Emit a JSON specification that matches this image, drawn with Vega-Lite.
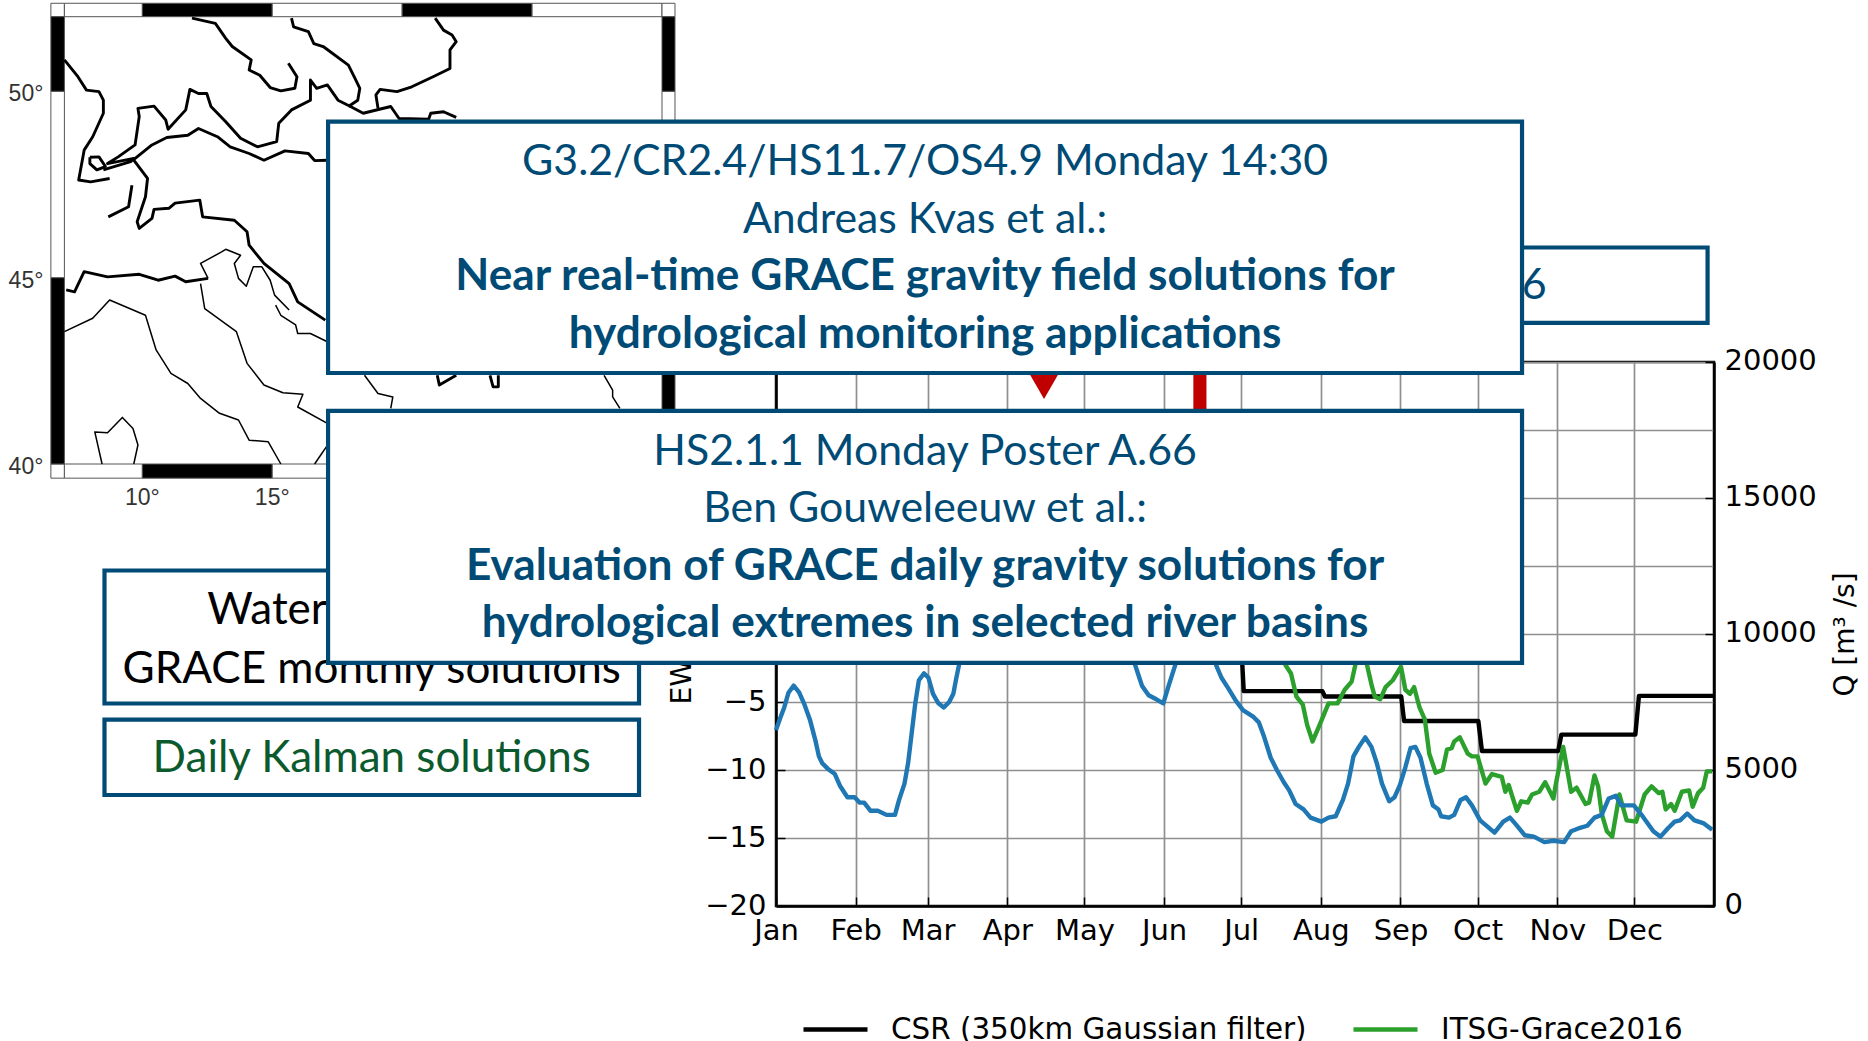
{"$schema":"https://vega.github.io/schema/vega-lite/v6.json","width":938,"height":544,"autosize":{"type":"none"},"padding":{"left":776,"top":362,"right":154,"bottom":135},"background":"white","config":{"view":{"stroke":"#000","strokeWidth":2.5},"text":{"font":"Lato"}},
"datasets":{
"series":[
{"series":"CSR (350km Gaussian filter)","day":165,"ewh":3},{"series":"CSR (350km Gaussian filter)","day":180,"ewh":3},{"series":"CSR (350km Gaussian filter)","day":182,"ewh":-4.2},{"series":"CSR (350km Gaussian filter)","day":212.6,"ewh":-4.2},{"series":"CSR (350km Gaussian filter)","day":213.6,"ewh":-4.6},{"series":"CSR (350km Gaussian filter)","day":243.3,"ewh":-4.6},{"series":"CSR (350km Gaussian filter)","day":244.4,"ewh":-6.4},{"series":"CSR (350km Gaussian filter)","day":273.3,"ewh":-6.4},{"series":"CSR (350km Gaussian filter)","day":274.7,"ewh":-8.6},{"series":"CSR (350km Gaussian filter)","day":304.4,"ewh":-8.6},{"series":"CSR (350km Gaussian filter)","day":305.6,"ewh":-7.4},{"series":"CSR (350km Gaussian filter)","day":334.4,"ewh":-7.4},{"series":"CSR (350km Gaussian filter)","day":335.8,"ewh":-4.55},{"series":"CSR (350km Gaussian filter)","day":365,"ewh":-4.55},
{"series":"ITSG-Grace2016","day":190,"ewh":1},{"series":"ITSG-Grace2016","day":198.3,"ewh":-2.3},{"series":"ITSG-Grace2016","day":200.4,"ewh":-2.9},{"series":"ITSG-Grace2016","day":202.5,"ewh":-4.6},{"series":"ITSG-Grace2016","day":205,"ewh":-5.2},{"series":"ITSG-Grace2016","day":206.7,"ewh":-6.7},{"series":"ITSG-Grace2016","day":208.8,"ewh":-7.9},{"series":"ITSG-Grace2016","day":211.5,"ewh":-6.7},{"series":"ITSG-Grace2016","day":215,"ewh":-5.1},{"series":"ITSG-Grace2016","day":218.5,"ewh":-5.1},{"series":"ITSG-Grace2016","day":221.3,"ewh":-4.1},{"series":"ITSG-Grace2016","day":224,"ewh":-3.5},{"series":"ITSG-Grace2016","day":225.4,"ewh":-2.3},{"series":"ITSG-Grace2016","day":227.5,"ewh":1},{"series":"ITSG-Grace2016","day":230,"ewh":-2.3},{"series":"ITSG-Grace2016","day":231.7,"ewh":-3.7},{"series":"ITSG-Grace2016","day":233,"ewh":-4.6},{"series":"ITSG-Grace2016","day":235.1,"ewh":-4.8},{"series":"ITSG-Grace2016","day":237.2,"ewh":-3.9},{"series":"ITSG-Grace2016","day":240,"ewh":-3.4},{"series":"ITSG-Grace2016","day":243.2,"ewh":-2.4},{"series":"ITSG-Grace2016","day":244.9,"ewh":-4.1},{"series":"ITSG-Grace2016","day":246.7,"ewh":-4.4},{"series":"ITSG-Grace2016","day":248.3,"ewh":-3.9},{"series":"ITSG-Grace2016","day":250.4,"ewh":-5.4},{"series":"ITSG-Grace2016","day":252.5,"ewh":-6.3},{"series":"ITSG-Grace2016","day":254.2,"ewh":-8.8},{"series":"ITSG-Grace2016","day":256.7,"ewh":-10.2},{"series":"ITSG-Grace2016","day":259.4,"ewh":-10},{"series":"ITSG-Grace2016","day":261.1,"ewh":-8.5},{"series":"ITSG-Grace2016","day":262.9,"ewh":-8.4},{"series":"ITSG-Grace2016","day":263.9,"ewh":-7.9},{"series":"ITSG-Grace2016","day":266.1,"ewh":-7.6},{"series":"ITSG-Grace2016","day":269.2,"ewh":-8.8},{"series":"ITSG-Grace2016","day":270.8,"ewh":-9},{"series":"ITSG-Grace2016","day":273,"ewh":-9},{"series":"ITSG-Grace2016","day":276.1,"ewh":-11},{"series":"ITSG-Grace2016","day":278.6,"ewh":-10.3},{"series":"ITSG-Grace2016","day":282.4,"ewh":-10.5},{"series":"ITSG-Grace2016","day":283.8,"ewh":-11.6},{"series":"ITSG-Grace2016","day":285.1,"ewh":-11.1},{"series":"ITSG-Grace2016","day":288.3,"ewh":-13},{"series":"ITSG-Grace2016","day":290,"ewh":-12.3},{"series":"ITSG-Grace2016","day":292.5,"ewh":-12.4},{"series":"ITSG-Grace2016","day":294.2,"ewh":-11.8},{"series":"ITSG-Grace2016","day":297,"ewh":-11.6},{"series":"ITSG-Grace2016","day":299.3,"ewh":-10.9},{"series":"ITSG-Grace2016","day":302.5,"ewh":-12.1},{"series":"ITSG-Grace2016","day":303.6,"ewh":-10.9},{"series":"ITSG-Grace2016","day":306.3,"ewh":-8.3},{"series":"ITSG-Grace2016","day":309.4,"ewh":-11.6},{"series":"ITSG-Grace2016","day":311.5,"ewh":-11.3},{"series":"ITSG-Grace2016","day":315,"ewh":-12.5},{"series":"ITSG-Grace2016","day":316.4,"ewh":-12.4},{"series":"ITSG-Grace2016","day":318.5,"ewh":-10.4},{"series":"ITSG-Grace2016","day":319.9,"ewh":-11.2},{"series":"ITSG-Grace2016","day":321.3,"ewh":-13.2},{"series":"ITSG-Grace2016","day":323.3,"ewh":-14.5},{"series":"ITSG-Grace2016","day":325.4,"ewh":-14.9},{"series":"ITSG-Grace2016","day":328.2,"ewh":-11.8},{"series":"ITSG-Grace2016","day":331,"ewh":-13.7},{"series":"ITSG-Grace2016","day":334.7,"ewh":-13.8},{"series":"ITSG-Grace2016","day":338,"ewh":-11.8},{"series":"ITSG-Grace2016","day":340.7,"ewh":-11.2},{"series":"ITSG-Grace2016","day":343.5,"ewh":-11.7},{"series":"ITSG-Grace2016","day":344.9,"ewh":-11.6},{"series":"ITSG-Grace2016","day":346.2,"ewh":-12.9},{"series":"ITSG-Grace2016","day":348.3,"ewh":-12.5},{"series":"ITSG-Grace2016","day":349.7,"ewh":-13},{"series":"ITSG-Grace2016","day":352.5,"ewh":-11.6},{"series":"ITSG-Grace2016","day":355.3,"ewh":-11.5},{"series":"ITSG-Grace2016","day":356.7,"ewh":-12.7},{"series":"ITSG-Grace2016","day":358.8,"ewh":-11.7},{"series":"ITSG-Grace2016","day":360.8,"ewh":-11.3},{"series":"ITSG-Grace2016","day":362.2,"ewh":-10.1},{"series":"ITSG-Grace2016","day":364.3,"ewh":-10.1},
{"series":"Daily","day":0,"ewh":-7.07},{"series":"Daily","day":1.4,"ewh":-6.3},{"series":"Daily","day":3.2,"ewh":-5.4},{"series":"Daily","day":4.9,"ewh":-4.3},{"series":"Daily","day":6.9,"ewh":-3.8},{"series":"Daily","day":9,"ewh":-4.3},{"series":"Daily","day":11.1,"ewh":-5.2},{"series":"Daily","day":13.2,"ewh":-6.3},{"series":"Daily","day":15.3,"ewh":-7.8},{"series":"Daily","day":16.7,"ewh":-9},{"series":"Daily","day":18,"ewh":-9.5},{"series":"Daily","day":20.1,"ewh":-9.9},{"series":"Daily","day":22.9,"ewh":-10.3},{"series":"Daily","day":25,"ewh":-11.2},{"series":"Daily","day":27.8,"ewh":-12},{"series":"Daily","day":30.6,"ewh":-12},{"series":"Daily","day":32.6,"ewh":-12.4},{"series":"Daily","day":34.3,"ewh":-12.4},{"series":"Daily","day":36.8,"ewh":-13},{"series":"Daily","day":39.6,"ewh":-13},{"series":"Daily","day":43,"ewh":-13.3},{"series":"Daily","day":46.3,"ewh":-13.3},{"series":"Daily","day":47.9,"ewh":-12.2},{"series":"Daily","day":50,"ewh":-11},{"series":"Daily","day":51.4,"ewh":-9.5},{"series":"Daily","day":52.8,"ewh":-7.3},{"series":"Daily","day":54.2,"ewh":-5.1},{"series":"Daily","day":55.6,"ewh":-3.4},{"series":"Daily","day":57.6,"ewh":-2.9},{"series":"Daily","day":59.3,"ewh":-3.2},{"series":"Daily","day":61.1,"ewh":-4.4},{"series":"Daily","day":63.2,"ewh":-5.1},{"series":"Daily","day":65.3,"ewh":-5.4},{"series":"Daily","day":67.4,"ewh":-5},{"series":"Daily","day":69,"ewh":-4.4},{"series":"Daily","day":70.1,"ewh":-3.3},{"series":"Daily","day":71.3,"ewh":-2.2},{"series":"Daily","day":80,"ewh":2},{"series":"Daily","day":100,"ewh":4},{"series":"Daily","day":125,"ewh":3},{"series":"Daily","day":137,"ewh":0},{"series":"Daily","day":139.6,"ewh":-2.2},{"series":"Daily","day":141,"ewh":-3},{"series":"Daily","day":142.4,"ewh":-3.8},{"series":"Daily","day":145,"ewh":-4.5},{"series":"Daily","day":148,"ewh":-4.8},{"series":"Daily","day":150.7,"ewh":-5.1},{"series":"Daily","day":152.8,"ewh":-3.8},{"series":"Daily","day":155.5,"ewh":-2.2},{"series":"Daily","day":160,"ewh":1},{"series":"Daily","day":167,"ewh":1},{"series":"Daily","day":171.3,"ewh":-2.3},{"series":"Daily","day":173.3,"ewh":-3.2},{"series":"Daily","day":176,"ewh":-4},{"series":"Daily","day":178.9,"ewh":-4.9},{"series":"Daily","day":181.7,"ewh":-5.6},{"series":"Daily","day":185.8,"ewh":-6.1},{"series":"Daily","day":187.9,"ewh":-6.5},{"series":"Daily","day":190,"ewh":-7.6},{"series":"Daily","day":192.5,"ewh":-9.1},{"series":"Daily","day":194.9,"ewh":-10},{"series":"Daily","day":197.6,"ewh":-10.9},{"series":"Daily","day":199.7,"ewh":-11.5},{"series":"Daily","day":202.2,"ewh":-12.5},{"series":"Daily","day":205.3,"ewh":-12.9},{"series":"Daily","day":208,"ewh":-13.5},{"series":"Daily","day":212.2,"ewh":-13.8},{"series":"Daily","day":215,"ewh":-13.5},{"series":"Daily","day":217.8,"ewh":-13.4},{"series":"Daily","day":220.6,"ewh":-12.2},{"series":"Daily","day":222.6,"ewh":-11},{"series":"Daily","day":224.7,"ewh":-9},{"series":"Daily","day":226.8,"ewh":-8.3},{"series":"Daily","day":229.3,"ewh":-7.6},{"series":"Daily","day":231.7,"ewh":-8.3},{"series":"Daily","day":233.8,"ewh":-9.5},{"series":"Daily","day":235.8,"ewh":-11},{"series":"Daily","day":238.6,"ewh":-12.3},{"series":"Daily","day":240.7,"ewh":-12},{"series":"Daily","day":242.8,"ewh":-11.1},{"series":"Daily","day":244.9,"ewh":-9.8},{"series":"Daily","day":246.9,"ewh":-8.4},{"series":"Daily","day":248.8,"ewh":-8.3},{"series":"Daily","day":250.8,"ewh":-9.1},{"series":"Daily","day":253.2,"ewh":-11},{"series":"Daily","day":255.6,"ewh":-12.6},{"series":"Daily","day":257.8,"ewh":-12.9},{"series":"Daily","day":258.8,"ewh":-13.4},{"series":"Daily","day":261.9,"ewh":-13.5},{"series":"Daily","day":263.9,"ewh":-13.3},{"series":"Daily","day":266.4,"ewh":-12.2},{"series":"Daily","day":268.5,"ewh":-12},{"series":"Daily","day":270.8,"ewh":-12.6},{"series":"Daily","day":274,"ewh":-13.7},{"series":"Daily","day":279.6,"ewh":-14.6},{"series":"Daily","day":283,"ewh":-13.8},{"series":"Daily","day":285.6,"ewh":-13.5},{"series":"Daily","day":287.9,"ewh":-14},{"series":"Daily","day":291.4,"ewh":-14.8},{"series":"Daily","day":294.9,"ewh":-14.9},{"series":"Daily","day":299,"ewh":-15.3},{"series":"Daily","day":302.5,"ewh":-15.2},{"series":"Daily","day":306.7,"ewh":-15.3},{"series":"Daily","day":309.4,"ewh":-14.5},{"series":"Daily","day":312.2,"ewh":-14.3},{"series":"Daily","day":315.7,"ewh":-14.1},{"series":"Daily","day":318.5,"ewh":-13.5},{"series":"Daily","day":321.3,"ewh":-13.3},{"series":"Daily","day":324,"ewh":-12.1},{"series":"Daily","day":326.8,"ewh":-11.9},{"series":"Daily","day":328.9,"ewh":-12.6},{"series":"Daily","day":333.8,"ewh":-12.6},{"series":"Daily","day":337.2,"ewh":-13.4},{"series":"Daily","day":341.4,"ewh":-14.5},{"series":"Daily","day":344.2,"ewh":-14.9},{"series":"Daily","day":347,"ewh":-14.3},{"series":"Daily","day":349.7,"ewh":-13.8},{"series":"Daily","day":351.8,"ewh":-13.7},{"series":"Daily","day":354.6,"ewh":-13.2},{"series":"Daily","day":357.4,"ewh":-13.7},{"series":"Daily","day":360.8,"ewh":-13.9},{"series":"Daily","day":364.3,"ewh":-14.4}
],
"mapLines":[
{"kind":"thick","path":"A","lon":11.91,"lat":51.96},{"kind":"thick","path":"A","lon":12.81,"lat":51.82},{"kind":"thick","path":"A","lon":13.21,"lat":51.42},{"kind":"thick","path":"A","lon":13.46,"lat":51.2},{"kind":"thick","path":"A","lon":14.19,"lat":50.84},{"kind":"thick","path":"A","lon":14.11,"lat":50.57},{"kind":"thick","path":"A","lon":14.52,"lat":50.43},{"kind":"thick","path":"A","lon":14.92,"lat":50.1},{"kind":"thick","path":"A","lon":15.33,"lat":50.01},{"kind":"thick","path":"A","lon":15.87,"lat":50.08},{"kind":"thick","path":"A","lon":15.95,"lat":50.39},{"kind":"thick","path":"A","lon":15.62,"lat":50.75},
{"kind":"thick","path":"B","lon":15.74,"lat":51.96},{"kind":"thick","path":"B","lon":15.82,"lat":51.73},{"kind":"thick","path":"B","lon":16.39,"lat":51.6},{"kind":"thick","path":"B","lon":16.6,"lat":51.28},{"kind":"thick","path":"B","lon":16.96,"lat":51.2},{"kind":"thick","path":"B","lon":17.93,"lat":50.7},{"kind":"thick","path":"B","lon":18.18,"lat":50.35},{"kind":"thick","path":"B","lon":18.37,"lat":50.08},{"kind":"thick","path":"B","lon":18.29,"lat":49.76},{"kind":"thick","path":"B","lon":17.93,"lat":49.59},
{"kind":"thick","path":"C","lon":21.27,"lat":51.96},{"kind":"thick","path":"C","lon":21.59,"lat":51.64},{"kind":"thick","path":"C","lon":21.92,"lat":51.51},{"kind":"thick","path":"C","lon":22.08,"lat":51.33},{"kind":"thick","path":"C","lon":21.84,"lat":51.11},{"kind":"thick","path":"C","lon":21.84,"lat":50.61},{"kind":"thick","path":"C","lon":21.19,"lat":50.39},{"kind":"thick","path":"C","lon":20.37,"lat":50.12},{"kind":"thick","path":"C","lon":19.8,"lat":49.99},{"kind":"thick","path":"C","lon":19.15,"lat":50.05},{"kind":"thick","path":"C","lon":18.99,"lat":49.9},{"kind":"thick","path":"C","lon":19.07,"lat":49.54},
{"kind":"thick","path":"D","lon":7,"lat":50.84},{"kind":"thick","path":"D","lon":7.52,"lat":50.39},{"kind":"thick","path":"D","lon":7.85,"lat":50.03},{"kind":"thick","path":"D","lon":8.33,"lat":49.99},{"kind":"thick","path":"D","lon":8.5,"lat":49.76},{"kind":"thick","path":"D","lon":8.5,"lat":49.41},{"kind":"thick","path":"D","lon":8.09,"lat":48.78},{"kind":"thick","path":"D","lon":7.76,"lat":48.42},{"kind":"thick","path":"D","lon":7.55,"lat":47.62},{"kind":"thick","path":"D","lon":8.01,"lat":47.57},{"kind":"thick","path":"D","lon":8.74,"lat":47.66},
{"kind":"thick","path":"E","lon":7.98,"lat":48.23},{"kind":"thick","path":"E","lon":8.33,"lat":48.24},{"kind":"thick","path":"E","lon":8.58,"lat":47.98},{"kind":"thick","path":"E","lon":8.25,"lat":47.89},{"kind":"thick","path":"E","lon":7.98,"lat":48.06},{"kind":"thick","path":"E","lon":7.98,"lat":48.23},
{"kind":"thick","path":"F","lon":8.5,"lat":47.89},{"kind":"thick","path":"F","lon":9.55,"lat":48.11},{"kind":"thick","path":"F","lon":9.67,"lat":48.2},{"kind":"thick","path":"F","lon":8.66,"lat":48.06},{"kind":"thick","path":"F","lon":9.07,"lat":48.24},{"kind":"thick","path":"F","lon":9.72,"lat":48.56},{"kind":"thick","path":"F","lon":9.88,"lat":49.32},{"kind":"thick","path":"F","lon":9.83,"lat":49.54},{"kind":"thick","path":"F","lon":10.45,"lat":49.6},{"kind":"thick","path":"F","lon":10.9,"lat":49.23},{"kind":"thick","path":"F","lon":10.99,"lat":48.98},{"kind":"thick","path":"F","lon":11.67,"lat":49.5},{"kind":"thick","path":"F","lon":11.83,"lat":50.05},{"kind":"thick","path":"F","lon":12.16,"lat":49.94},{"kind":"thick","path":"F","lon":12.48,"lat":49.94},{"kind":"thick","path":"F","lon":12.64,"lat":49.59},{"kind":"thick","path":"F","lon":13.21,"lat":49.18},{"kind":"thick","path":"F","lon":13.78,"lat":48.74},{"kind":"thick","path":"F","lon":14.43,"lat":48.51},{"kind":"thick","path":"F","lon":15.17,"lat":48.65},{"kind":"thick","path":"F","lon":15.25,"lat":49.14},{"kind":"thick","path":"F","lon":15.74,"lat":49.5},{"kind":"thick","path":"F","lon":16.47,"lat":49.76},{"kind":"thick","path":"F","lon":16.47,"lat":50.3},{"kind":"thick","path":"F","lon":16.71,"lat":50.08},{"kind":"thick","path":"F","lon":17.12,"lat":50.17},{"kind":"thick","path":"F","lon":17.53,"lat":49.76},{"kind":"thick","path":"F","lon":18.01,"lat":49.59},{"kind":"thick","path":"F","lon":18.5,"lat":49.41},{"kind":"thick","path":"F","lon":19.56,"lat":49.59},{"kind":"thick","path":"F","lon":19.88,"lat":49.27},{"kind":"thick","path":"F","lon":21.02,"lat":49.25},{"kind":"thick","path":"F","lon":21.1,"lat":49.41},{"kind":"thick","path":"F","lon":21.59,"lat":49.45},{"kind":"thick","path":"F","lon":22.08,"lat":49.3},
{"kind":"thick","path":"G","lon":9.64,"lat":48.15},{"kind":"thick","path":"G","lon":10.37,"lat":48.56},{"kind":"thick","path":"G","lon":10.94,"lat":48.76},{"kind":"thick","path":"G","lon":11.75,"lat":48.82},{"kind":"thick","path":"G","lon":12.16,"lat":49},{"kind":"thick","path":"G","lon":12.89,"lat":48.78},{"kind":"thick","path":"G","lon":13.38,"lat":48.51},{"kind":"thick","path":"G","lon":14.11,"lat":48.33},{"kind":"thick","path":"G","lon":14.68,"lat":48.15},{"kind":"thick","path":"G","lon":15.49,"lat":48.4},{"kind":"thick","path":"G","lon":16.39,"lat":48.33},{"kind":"thick","path":"G","lon":16.63,"lat":48.14},{"kind":"thick","path":"G","lon":17.12,"lat":48.15},
{"kind":"thick","path":"H","lon":9.67,"lat":48.15},{"kind":"thick","path":"H","lon":10.2,"lat":47.66},{"kind":"thick","path":"H","lon":10.12,"lat":47.17},{"kind":"thick","path":"H","lon":9.8,"lat":46.5},{"kind":"thick","path":"H","lon":9.88,"lat":46.32},{"kind":"thick","path":"H","lon":10.37,"lat":46.59},{"kind":"thick","path":"H","lon":10.45,"lat":46.83},{"kind":"thick","path":"H","lon":11.02,"lat":46.86},{"kind":"thick","path":"H","lon":11.26,"lat":47},{"kind":"thick","path":"H","lon":12.21,"lat":47.08},{"kind":"thick","path":"H","lon":12.32,"lat":46.63},{"kind":"thick","path":"H","lon":13.54,"lat":46.54},{"kind":"thick","path":"H","lon":14.03,"lat":46.23},{"kind":"thick","path":"H","lon":14.11,"lat":45.87},{"kind":"thick","path":"H","lon":14.68,"lat":45.38},{"kind":"thick","path":"H","lon":15.65,"lat":44.84},{"kind":"thick","path":"H","lon":15.98,"lat":44.35},{"kind":"thick","path":"H","lon":17.04,"lat":43.86},
{"kind":"thick","path":"I","lon":9.6,"lat":47.48},{"kind":"thick","path":"I","lon":9.47,"lat":46.9},{"kind":"thick","path":"I","lon":8.69,"lat":46.63},
{"kind":"thick","path":"J","lon":7.07,"lat":44.67},{"kind":"thick","path":"J","lon":7.39,"lat":44.62},{"kind":"thick","path":"J","lon":7.76,"lat":45.16},{"kind":"thick","path":"J","lon":8.66,"lat":45.02},{"kind":"thick","path":"J","lon":9.88,"lat":45.09},{"kind":"thick","path":"J","lon":10.61,"lat":44.93},{"kind":"thick","path":"J","lon":11.26,"lat":45.04},{"kind":"thick","path":"J","lon":11.67,"lat":44.89},{"kind":"thick","path":"J","lon":12.53,"lat":44.98},
{"kind":"thin","path":"K","lon":12.53,"lat":44.98},{"kind":"thin","path":"K","lon":12.24,"lat":45.38},{"kind":"thin","path":"K","lon":13.05,"lat":45.69},{"kind":"thin","path":"K","lon":13.21,"lat":45.76},{"kind":"thin","path":"K","lon":13.78,"lat":45.6},{"kind":"thin","path":"K","lon":13.54,"lat":45.38},{"kind":"thin","path":"K","lon":13.7,"lat":44.98},{"kind":"thin","path":"K","lon":14,"lat":44.77},{"kind":"thin","path":"K","lon":14.27,"lat":45.29},{"kind":"thin","path":"K","lon":14.6,"lat":45.29},{"kind":"thin","path":"K","lon":14.92,"lat":44.93},{"kind":"thin","path":"K","lon":15.09,"lat":44.53},{"kind":"thin","path":"K","lon":15.65,"lat":44.13},
{"kind":"thin","path":"L","lon":15.13,"lat":44.26},{"kind":"thin","path":"L","lon":15.33,"lat":43.99},{"kind":"thin","path":"L","lon":15.9,"lat":43.73},{"kind":"thin","path":"L","lon":15.98,"lat":43.5},{"kind":"thin","path":"L","lon":16.47,"lat":43.5},{"kind":"thin","path":"L","lon":17.12,"lat":43.28},
{"kind":"thin","path":"M","lon":12.24,"lat":44.84},{"kind":"thin","path":"M","lon":12.4,"lat":44.17},{"kind":"thin","path":"M","lon":13.62,"lat":43.55},{"kind":"thin","path":"M","lon":14.03,"lat":42.7},{"kind":"thin","path":"M","lon":14.68,"lat":42.12},{"kind":"thin","path":"M","lon":15.41,"lat":41.91},{"kind":"thin","path":"M","lon":16.18,"lat":41.87},{"kind":"thin","path":"M","lon":15.98,"lat":41.53},{"kind":"thin","path":"M","lon":17.12,"lat":41.09},
{"kind":"thin","path":"N","lon":7,"lat":43.55},{"kind":"thin","path":"N","lon":8.09,"lat":43.91},{"kind":"thin","path":"N","lon":8.74,"lat":44.4},{"kind":"thin","path":"N","lon":10.12,"lat":43.99},{"kind":"thin","path":"N","lon":10.53,"lat":43.06},{"kind":"thin","path":"N","lon":11.1,"lat":42.43},{"kind":"thin","path":"N","lon":11.75,"lat":42.16},{"kind":"thin","path":"N","lon":12.24,"lat":41.76},{"kind":"thin","path":"N","lon":12.97,"lat":41.36},{"kind":"thin","path":"N","lon":13.7,"lat":41.18},{"kind":"thin","path":"N","lon":14.11,"lat":40.64},{"kind":"thin","path":"N","lon":14.84,"lat":40.6},{"kind":"thin","path":"N","lon":15.33,"lat":40},
{"kind":"thin","path":"O","lon":8.45,"lat":40},{"kind":"thin","path":"O","lon":8.17,"lat":40.86},{"kind":"thin","path":"O","lon":8.66,"lat":40.84},{"kind":"thin","path":"O","lon":9.23,"lat":41.25},{"kind":"thin","path":"O","lon":9.64,"lat":40.95},{"kind":"thin","path":"O","lon":9.83,"lat":40.51},{"kind":"thin","path":"O","lon":9.67,"lat":40},
{"kind":"thin","path":"P","lon":16.63,"lat":40},{"kind":"thin","path":"P","lon":17.12,"lat":40.5},
{"kind":"thin","path":"Q","lon":18.55,"lat":42.38},{"kind":"thin","path":"Q","lon":19.07,"lat":41.89},{"kind":"thin","path":"Q","lon":19.64,"lat":41.8},{"kind":"thin","path":"Q","lon":19.56,"lat":41.49},
{"kind":"thick","path":"R","lon":21.35,"lat":42.38},{"kind":"thick","path":"R","lon":21.43,"lat":42.12},{"kind":"thick","path":"R","lon":22.08,"lat":42.38},
{"kind":"thick","path":"S","lon":23.38,"lat":42.38},{"kind":"thick","path":"S","lon":23.5,"lat":42.07},{"kind":"thick","path":"S","lon":23.7,"lat":42.07},{"kind":"thick","path":"S","lon":23.7,"lat":42.38},
{"kind":"thin","path":"T","lon":27.77,"lat":42.38},{"kind":"thin","path":"T","lon":28.1,"lat":41.98},{"kind":"thin","path":"T","lon":28.1,"lat":41.8},{"kind":"thin","path":"T","lon":28.38,"lat":41.49}
],
"mapFrame":[
{"band":"white","lon0":6.48,"lon1":7,"lat0":52,"lat1":52.36},{"band":"white","lon0":7,"lon1":10,"lat0":52,"lat1":52.36},{"band":"black","lon0":10,"lon1":15,"lat0":52,"lat1":52.36},{"band":"white","lon0":15,"lon1":20,"lat0":52,"lat1":52.36},{"band":"black","lon0":20,"lon1":25,"lat0":52,"lat1":52.36},{"band":"white","lon0":25,"lon1":30,"lat0":52,"lat1":52.36},{"band":"white","lon0":30,"lon1":30.5,"lat0":52,"lat1":52.36},
{"band":"white","lon0":6.48,"lon1":7,"lat0":39.62,"lat1":40},{"band":"white","lon0":7,"lon1":10,"lat0":39.62,"lat1":40},{"band":"black","lon0":10,"lon1":15,"lat0":39.62,"lat1":40},{"band":"white","lon0":15,"lon1":20,"lat0":39.62,"lat1":40},{"band":"black","lon0":20,"lon1":25,"lat0":39.62,"lat1":40},{"band":"white","lon0":25,"lon1":30,"lat0":39.62,"lat1":40},{"band":"white","lon0":30,"lon1":30.5,"lat0":39.62,"lat1":40},
{"band":"black","lon0":6.48,"lon1":7,"lat0":40,"lat1":45},{"band":"white","lon0":6.48,"lon1":7,"lat0":45,"lat1":50},{"band":"black","lon0":6.48,"lon1":7,"lat0":50,"lat1":52},
{"band":"black","lon0":30,"lon1":30.5,"lat0":40,"lat1":45},{"band":"white","lon0":30,"lon1":30.5,"lat0":45,"lat1":50},{"band":"black","lon0":30,"lon1":30.5,"lat0":50,"lat1":52}
],
"mapLabels":[
{"label":"10°","lon":10,"lat":40,"side":"bottom"},{"label":"15°","lon":15,"lat":40,"side":"bottom"},{"label":"20°","lon":20,"lat":40,"side":"bottom"},{"label":"25°","lon":25,"lat":40,"side":"bottom"},
{"label":"50°","lon":7,"lat":50,"side":"left"},{"label":"45°","lon":7,"lat":45,"side":"left"},{"label":"40°","lon":7,"lat":40,"side":"left"}
],
"rearBoxes":[
{"box":"Water mass","dayFrom":-261.3,"dayTo":-53.3,"top":4.67,"bottom":-5.11},
{"box":"Daily Kalman","dayFrom":-261.3,"dayTo":-53.3,"top":-6.29,"bottom":-11.84},
{"box":"ITSG","dayFrom":87,"dayTo":362.5,"top":28.42,"bottom":22.87}
],
"frontBoxes":[
{"box":"Talk","dayFrom":-174.3,"dayTo":290.3,"top":37.68,"bottom":19.19},
{"box":"Poster","dayFrom":-174.3,"dayTo":290.3,"top":16.4,"bottom":-2.13}
],
"notes":[
{"kind":"black","text":"Water mass from","day":-157.3,"ewh":1.68},
{"kind":"black","text":"GRACE monthly solutions","day":-157.3,"ewh":-2.63},
{"kind":"green","text":"Daily Kalman solutions","day":-157.3,"ewh":-9.22},
{"kind":"rear","text":"ITSG-Grace2016","day":238,"ewh":25.6},
{"kind":"head","text":"G3.2/CR2.4/HS11.7/OS4.9 Monday 14:30","day":58,"ewh":34.67},
{"kind":"head","text":"Andreas Kvas et al.:","day":58,"ewh":30.41},
{"kind":"bold","text":"Near real-time GRACE gravity field solutions for","day":58,"ewh":26.22},
{"kind":"bold","text":"hydrological monitoring applications","day":58,"ewh":21.95},
{"kind":"head","text":"HS2.1.1 Monday Poster A.66","day":58,"ewh":13.35},
{"kind":"head","text":"Ben Gouweleeuw et al.:","day":58,"ewh":9.16},
{"kind":"bold","text":"Evaluation of GRACE daily gravity solutions for","day":58,"ewh":4.9},
{"kind":"bold","text":"hydrological extremes in selected river basins","day":58,"ewh":0.7}
]
},
"resolve":{"scale":{"x":"independent","y":"independent"},"axis":{"x":"independent","y":"independent"}},
"layer":[
{"data":{"name":"mapFrame"},"mark":{"type":"rect","stroke":"#555","strokeWidth":1},
 "encoding":{"x":{"field":"lon0","type":"quantitative","axis":null,"scale":{"domain":[7,30],"range":[-711.6,-114],"nice":false,"zero":false}},"x2":{"field":"lon1"},"y":{"field":"lat0","type":"quantitative","axis":null,"scale":{"domain":[40,52],"range":[102,-345.3],"nice":false,"zero":false}},"y2":{"field":"lat1"},"fill":{"field":"band","type":"nominal","legend":null,"scale":{"domain":["black","white"],"range":["#000","#fff"]}}}},
{"data":{"name":"mapLines"},"transform":[{"window":[{"op":"row_number","as":"seq"}]},{"filter":"datum.kind==='thick'"}],"mark":{"type":"line","color":"#000","strokeWidth":2.9,"strokeJoin":"round"},
 "encoding":{"x":{"field":"lon","type":"quantitative","axis":null,"scale":{"domain":[7,30],"range":[-711.6,-114],"nice":false,"zero":false}},"y":{"field":"lat","type":"quantitative","axis":null,"scale":{"domain":[40,52],"range":[102,-345.3],"nice":false,"zero":false}},"detail":{"field":"path"},"order":{"field":"seq","type":"quantitative"}}},
{"data":{"name":"mapLines"},"transform":[{"window":[{"op":"row_number","as":"seq"}]},{"filter":"datum.kind==='thin'"}],"mark":{"type":"line","color":"#000","strokeWidth":1.5,"strokeJoin":"round"},
 "encoding":{"x":{"field":"lon","type":"quantitative","axis":null,"scale":{"domain":[7,30],"range":[-711.6,-114],"nice":false,"zero":false}},"y":{"field":"lat","type":"quantitative","axis":null,"scale":{"domain":[40,52],"range":[102,-345.3],"nice":false,"zero":false}},"detail":{"field":"path"},"order":{"field":"seq","type":"quantitative"}}},
{"data":{"name":"mapLabels"},"transform":[{"filter":"datum.side==='bottom'"}],"mark":{"type":"text","font":"Liberation Sans","fontSize":23,"color":"#333","dy":34,"baseline":"middle"},
 "encoding":{"x":{"field":"lon","type":"quantitative","axis":null,"scale":{"domain":[7,30],"range":[-711.6,-114],"nice":false,"zero":false}},"y":{"field":"lat","type":"quantitative","axis":null,"scale":{"domain":[40,52],"range":[102,-345.3],"nice":false,"zero":false}},"text":{"field":"label"}}},
{"data":{"name":"mapLabels"},"transform":[{"filter":"datum.side==='left'"}],"mark":{"type":"text","font":"Liberation Sans","fontSize":23,"color":"#333","dx":-21,"dy":3,"align":"right","baseline":"middle"},
 "encoding":{"x":{"field":"lon","type":"quantitative","axis":null,"scale":{"domain":[7,30],"range":[-711.6,-114],"nice":false,"zero":false}},"y":{"field":"lat","type":"quantitative","axis":null,"scale":{"domain":[40,52],"range":[102,-345.3],"nice":false,"zero":false}},"text":{"field":"label"}}},
{"data":{"name":"series"},"mark":{"type":"line","strokeWidth":4.4,"strokeJoin":"round"},
 "encoding":{
  "x":{"field":"day","type":"quantitative","scale":{"domain":[0,365],"nice":false,"zero":false},"axis":{"title":null,"values":[0,31,59,90,120,151,181,212,243,273,304,334],"labelExpr":"timeFormat(datetime(2015,0,datum.value+1),'%b')","labelFont":"DejaVu Sans","labelFontSize":29,"labelColor":"#000","labelPadding":19,"labelBaseline":"top","labelFlush":false,"labelOverlap":false,"tickSize":-9,"tickColor":"#000","tickWidth":1.5,"domainColor":"#000","domainWidth":2.5,"grid":true,"gridColor":"#8f8f8f","gridWidth":1.7}},
  "y":{"field":"ewh","type":"quantitative","scale":{"domain":[-20,20],"nice":false,"zero":false},"axis":{"orient":"left","title":"EWH [cm]","titleFont":"DejaVu Sans","titleFontWeight":"normal","titleFontSize":28,"titleColor":"#000","titlePadding":8,"values":[-20,-15,-10,-5,0,5,10,15,20],"labelFont":"DejaVu Sans","labelFontSize":29,"labelColor":"#000","labelPadding":19,"labelOffset":-1,"tickSize":-9,"tickColor":"#000","tickWidth":1.5,"domainColor":"#000","domainWidth":2.5,"grid":true,"gridColor":"#8f8f8f","gridWidth":1.7}},
  "color":{"field":"series","type":"nominal","scale":{"domain":["CSR (350km Gaussian filter)","ITSG-Grace2016","Daily"],"range":["#000000","#2ca02c","#1f77b4"]},"legend":{"orient":"none","legendX":25,"legendY":633,"direction":"horizontal","title":null,"values":["CSR (350km Gaussian filter)","ITSG-Grace2016"],"symbolType":"stroke","symbolSize":4096,"symbolStrokeWidth":4.5,"labelFont":"DejaVu Sans","labelFontSize":29.4,"labelColor":"#000","labelOffset":21,"columnPadding":37,"labelLimit":600}}}},
{"data":{"values":[{"event":"Extreme B","dayFrom":162.4,"dayTo":167.5,"qFrom":14000,"qTo":19800}]},"mark":{"type":"rect","color":"#c00000"},
 "encoding":{"x":{"field":"dayFrom","type":"quantitative","axis":null,"scale":{"domain":[0,365],"nice":false,"zero":false}},"x2":{"field":"dayTo"},
  "y":{"field":"qFrom","type":"quantitative","scale":{"domain":[0,20000],"nice":false,"zero":false},"axis":{"orient":"right","title":"Q [m³ /s]","titleFont":"DejaVu Sans","titleFontWeight":"normal","titleFontSize":28,"titleColor":"#000","titleAngle":270,"titlePadding":43,"values":[0,5000,10000,15000,20000],"labelFont":"DejaVu Sans","labelFontSize":29,"labelColor":"#000","labelPadding":19,"labelOffset":-2,"tickSize":-9,"tickColor":"#000","tickWidth":1.5,"domainColor":"#000","domainWidth":2.5,"grid":false,"format":"d"}},"y2":{"field":"qTo"}}},
{"data":{"values":[{"event":"Extreme A","day":104.3,"q":19211}]},"mark":{"type":"point","shape":"triangle-down","filled":true,"size":1296,"color":"#c00000","opacity":1},
 "encoding":{"x":{"field":"day","type":"quantitative","axis":null,"scale":{"domain":[0,365],"nice":false,"zero":false}},"y":{"field":"q","type":"quantitative","axis":null,"scale":{"domain":[0,20000],"nice":false,"zero":false}}}},
{"data":{"name":"rearBoxes"},"mark":{"type":"rect","fill":"#fff","stroke":"#004b76","strokeWidth":4.2,"cornerRadius":0},
 "encoding":{"x":{"field":"dayFrom","type":"quantitative","axis":null,"scale":{"domain":[0,365],"nice":false,"zero":false}},"x2":{"field":"dayTo"},"y":{"field":"top","type":"quantitative","axis":null,"scale":{"domain":[-20,20],"nice":false,"zero":false}},"y2":{"field":"bottom"}}},
{"data":{"name":"notes"},"transform":[{"filter":"datum.kind==='black'"}],"mark":{"type":"text","font":"Lato","fontSize":44,"color":"#000","baseline":"middle"},
 "encoding":{"x":{"field":"day","type":"quantitative","axis":null,"scale":{"domain":[0,365],"nice":false,"zero":false}},"y":{"field":"ewh","type":"quantitative","axis":null,"scale":{"domain":[-20,20],"nice":false,"zero":false}},"text":{"field":"text"}}},
{"data":{"name":"notes"},"transform":[{"filter":"datum.kind==='green'"}],"mark":{"type":"text","font":"Lato","fontSize":44,"color":"#0b5a2e","baseline":"middle"},
 "encoding":{"x":{"field":"day","type":"quantitative","axis":null,"scale":{"domain":[0,365],"nice":false,"zero":false}},"y":{"field":"ewh","type":"quantitative","axis":null,"scale":{"domain":[-20,20],"nice":false,"zero":false}},"text":{"field":"text"}}},
{"data":{"name":"notes"},"transform":[{"filter":"datum.kind==='rear'"}],"mark":{"type":"text","font":"Lato","fontSize":43,"color":"#004b76","baseline":"middle"},
 "encoding":{"x":{"field":"day","type":"quantitative","axis":null,"scale":{"domain":[0,365],"nice":false,"zero":false}},"y":{"field":"ewh","type":"quantitative","axis":null,"scale":{"domain":[-20,20],"nice":false,"zero":false}},"text":{"field":"text"}}},
{"data":{"name":"frontBoxes"},"mark":{"type":"rect","fill":"#fff","stroke":"#004b76","strokeWidth":4.2},
 "encoding":{"x":{"field":"dayFrom","type":"quantitative","axis":null,"scale":{"domain":[0,365],"nice":false,"zero":false}},"x2":{"field":"dayTo"},"y":{"field":"top","type":"quantitative","axis":null,"scale":{"domain":[-20,20],"nice":false,"zero":false}},"y2":{"field":"bottom"}}},
{"data":{"name":"notes"},"transform":[{"filter":"datum.kind==='head'"}],"mark":{"type":"text","font":"Lato","fontSize":42.8,"color":"#004b76","baseline":"middle"},
 "encoding":{"x":{"field":"day","type":"quantitative","axis":null,"scale":{"domain":[0,365],"nice":false,"zero":false}},"y":{"field":"ewh","type":"quantitative","axis":null,"scale":{"domain":[-20,20],"nice":false,"zero":false}},"text":{"field":"text"}}},
{"data":{"name":"notes"},"transform":[{"filter":"datum.kind==='bold'"}],"mark":{"type":"text","font":"Lato","fontSize":44.2,"fontWeight":"bold","color":"#004b76","baseline":"middle"},
 "encoding":{"x":{"field":"day","type":"quantitative","axis":null,"scale":{"domain":[0,365],"nice":false,"zero":false}},"y":{"field":"ewh","type":"quantitative","axis":null,"scale":{"domain":[-20,20],"nice":false,"zero":false}},"text":{"field":"text"}}}
]}
